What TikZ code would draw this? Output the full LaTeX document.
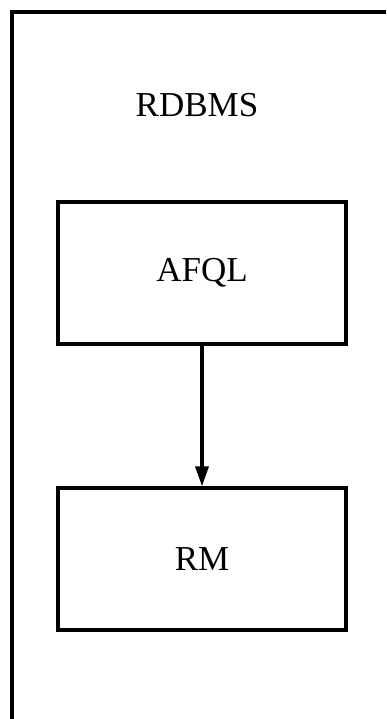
\documentclass[tikz,border=0pt]{standalone}
\usepackage{fontspec}
\setmainfont{Liberation Serif}
\usetikzlibrary{arrows.meta}
\begin{document}
\begin{tikzpicture}[x=1pt,y=-1pt,
  frame/.style={line width=3.2pt},
  blk/.style={draw,line width=3.2pt,minimum width=288pt,minimum height=142pt,inner sep=0pt,font=\fontsize{35}{38}\selectfont},
  lbl/.style={font=\fontsize{35}{38}\selectfont,inner sep=0pt},
  conn/.style={line width=3.4pt,-{Triangle[length=20pt,width=13pt]}}]
\useasboundingbox (0,0) rectangle (386,719);
\clip (0,0) rectangle (386,719);
\coordinate (fl) at (12,719);
\coordinate (fc) at (12,12);
\coordinate (fr) at (386,12);
\draw[frame,line join=miter] (fl) -- (fc) -- (fr);
\node[lbl] (rdbms) at (197,105) {RDBMS};
\node[blk] (afql) at (202,273) {AFQL};
\node[blk] (rm) at (202,559) {RM};
\draw[conn] (afql.south) -- (rm.north);
\end{tikzpicture}
\end{document}
